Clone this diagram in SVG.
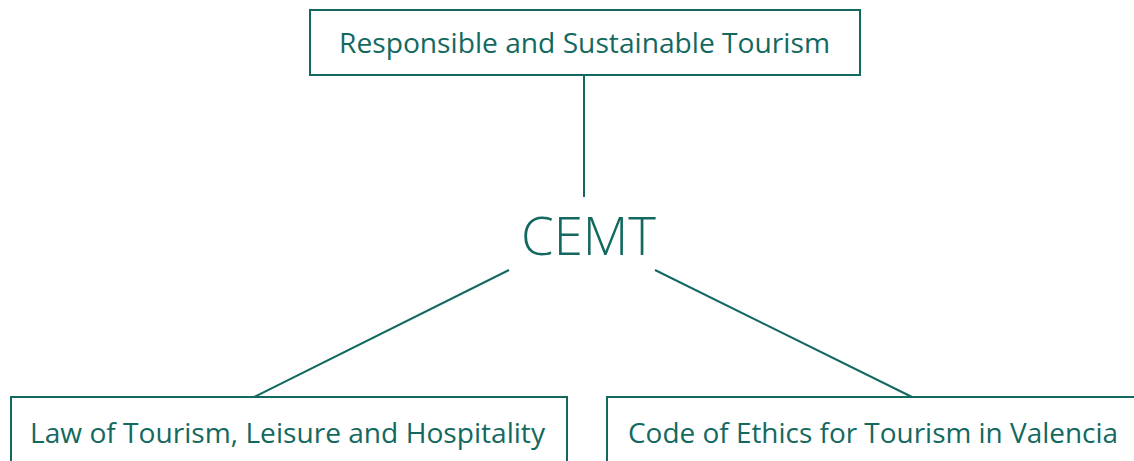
<svg xmlns="http://www.w3.org/2000/svg" width="1134" height="461" viewBox="0 0 1134 461">
<style>
.box{fill:#fff;stroke:#13695f;stroke-width:2}
.lbl{font-family:"Open Sans","Noto Sans","Liberation Sans",sans-serif;font-size:27px;fill:#13695f}
.big{font-family:"Open Sans","Noto Sans","Liberation Sans",sans-serif;font-size:54px;font-weight:300;fill:#13695f}
.con{stroke:#13695f;stroke-width:2;fill:none}
</style>
<rect width="1134" height="461" fill="#fff"/>
<g id="connectors">
<line class="con" x1="584" y1="75" x2="584" y2="197"/>
<line class="con" x1="509" y1="270" x2="254" y2="397"/>
<line class="con" x1="655" y1="270" x2="912" y2="397"/>
</g>
<g id="node-top">
<rect class="box" x="310" y="10" width="550" height="65"/>
<text class="lbl" x="339" y="53" textLength="491" lengthAdjust="spacingAndGlyphs">Responsible and Sustainable Tourism</text>
</g>
<g id="node-cemt">
<text class="big" x="521" y="255" textLength="135" lengthAdjust="spacingAndGlyphs">CEMT</text>
</g>
<g id="node-law">
<rect class="box" x="11" y="397" width="556" height="80"/>
<text class="lbl" x="30" y="443" textLength="515" lengthAdjust="spacingAndGlyphs">Law of Tourism, Leisure and Hospitality</text>
</g>
<g id="node-code">
<rect class="box" x="607" y="397" width="540" height="80"/>
<text class="lbl" x="628" y="443" textLength="490" lengthAdjust="spacingAndGlyphs">Code of Ethics for Tourism in Valencia</text>
</g>
</svg>
